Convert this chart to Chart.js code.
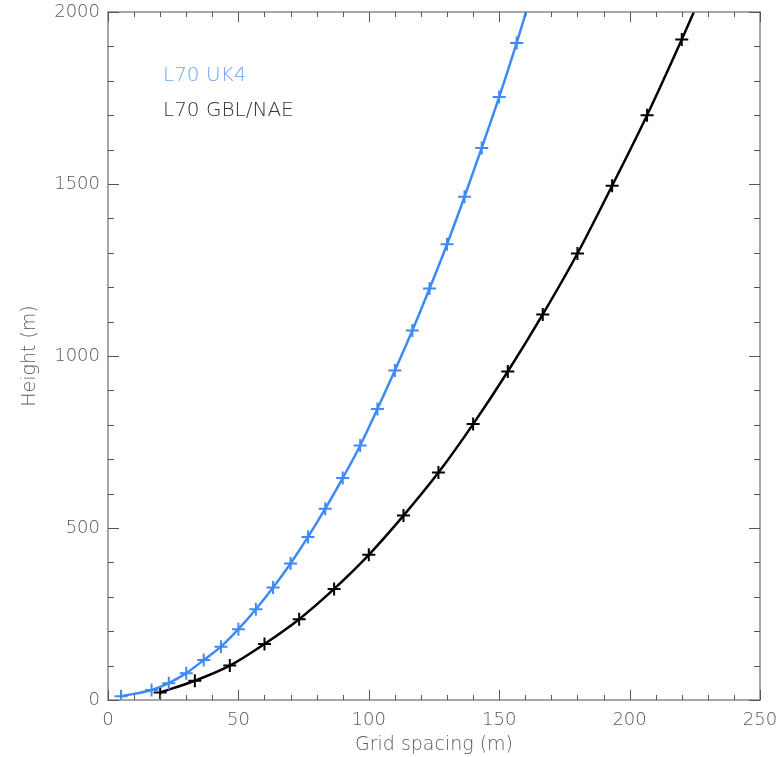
<!DOCTYPE html>
<html>
<head>
<meta charset="utf-8">
<script src="https://cdn.jsdelivr.net/npm/chart.js@4/dist/chart.umd.min.js"></script>
<style>
html, body { margin: 0; padding: 0; background: #fff; }
#wrap { width: 782px; height: 757px; }
</style>
</head>
<body>
<div id="wrap"><canvas id="height_chart"></canvas></div>
<script>
// grid spacing (m) and height (m)
var uk4_spacing = [5, 16.7, 23.3, 30, 36.7, 43.3, 50, 56.7, 63.3, 70, 76.7, 83.3, 90, 96.7, 103.3, 110, 116.7, 123.3, 130, 136.7, 143.3, 150, 156.7, 163.3];
var uk4_height  = [11, 29, 49, 78, 116, 155, 206, 264, 327, 397, 474, 556, 645, 740, 846, 958, 1074, 1196, 1325, 1463, 1605, 1753, 1910, 2075];
var gbl_spacing = [20, 33.3, 46.7, 60, 73.3, 86.7, 100, 113.3, 126.7, 140, 153.3, 166.7, 180, 193.3, 206.7, 220, 233.3];
var gbl_height  = [22, 56, 100, 163, 235, 323, 422, 536, 661, 802, 955, 1121, 1298, 1495, 1700, 1920, 2150];
var series_names = ['L70 UK4', 'L70 GBL/NAE'];
var x_ticks = [0, 50, 100, 150, 200, 250];
var y_ticks = [0, 500, 1000, 1500, 2000];

var FONT = 'DejaVu Sans';
var WEIGHT = '200';
var TEXT = '#5a5a5a';

function to_points(xs, ys){
	var pts = [];
	for(var i=0; i<xs.length; i++){
		pts.push({x: xs[i], y: ys[i]});
	}
	return pts;
}

// frame with inward ticks on all four sides
var frame_ticks = {
	id: 'frame_ticks',
	afterDraw: function(chart){
		var ctx = chart.ctx, a = chart.chartArea;
		var xs = chart.scales.x, ys = chart.scales.y;
		ctx.save();
		ctx.strokeStyle = '#8a8a8a';
		ctx.lineWidth = 1.5;
		ctx.strokeRect(a.left, a.top, a.right - a.left, a.bottom - a.top);
		ctx.strokeStyle = '#555';
		ctx.lineWidth = 1;
		ctx.beginPath();
		for(var v = 0; v <= 250; v += 10){
			var px = Math.round(xs.getPixelForValue(v)) + 0.5;
			var len = (v % 50 === 0) ? 10 : 5;
			ctx.moveTo(px, a.bottom); ctx.lineTo(px, a.bottom - len);
			ctx.moveTo(px, a.top); ctx.lineTo(px, a.top + len);
		}
		for(var h = 0; h <= 2000; h += 100){
			var py = Math.round(ys.getPixelForValue(h)) + 0.5;
			var hl = (h % 500 === 0) ? 11 : 6;
			ctx.moveTo(a.left, py); ctx.lineTo(a.left + hl, py);
			ctx.moveTo(a.right, py); ctx.lineTo(a.right - hl, py);
		}
		ctx.stroke();

		// text legend
		ctx.font = WEIGHT + ' 20px "' + FONT + '"';
		ctx.textAlign = 'left';
		ctx.textBaseline = 'alphabetic';
		ctx.fillStyle = '#6ea6f2';
		ctx.fillText(series_names[0], a.left + 55, a.top + 69);
		ctx.fillStyle = '#333';
		ctx.fillText(series_names[1], a.left + 55, a.top + 104);
		ctx.restore();
	}
};

function plain(v){ return String(v); }

function draw_figure(){
	var ctx = document.getElementById('height_chart').getContext('2d');

	var uk4 = {};
	uk4.label = series_names[0];
	uk4.data = to_points(uk4_spacing, uk4_height);
	uk4.borderColor = '#3d8af7';
	uk4.pointBorderColor = '#3d8af7';

	var gbl = {};
	gbl.label = series_names[1];
	gbl.data = to_points(gbl_spacing, gbl_height);
	gbl.borderColor = '#000';
	gbl.pointBorderColor = '#000';

	var sets = [uk4, gbl];
	for(var i=0; i<sets.length; i++){
		sets[i].borderWidth = 2.5;
		sets[i].pointStyle = 'cross';
		sets[i].pointRadius = 6.5;
		sets[i].pointBorderWidth = 2;
		sets[i].cubicInterpolationMode = 'monotone';
		sets[i].fill = false;
	}

	var tick_font = {family: FONT, size: 18, weight: WEIGHT};
	var title_font = {family: FONT, size: 19, weight: WEIGHT};

	var opts = {
		responsive: true,
		maintainAspectRatio: false,
		animation: false,
		layout: {padding: {top: 12, right: 22, left: 0, bottom: 0}},
		plugins: {legend: {display: false}, tooltip: {enabled: false}},
		scales: {
			x: {
				type: 'linear', min: 0, max: 250,
				grid: {display: false, drawTicks: false},
				border: {display: false},
				afterBuildTicks: function(s){ s.ticks = x_ticks.map(function(v){ return {value: v}; }); },
				afterFit: function(s){ s.height = 57; s.paddingLeft = 0; s.paddingRight = 0; },
				ticks: {color: TEXT, font: tick_font, padding: 10, maxRotation: 0, callback: plain},
				title: {display: true, text: 'Grid spacing (m)', color: TEXT, font: title_font, padding: {top: 0, bottom: 1}}
			},
			y: {
				type: 'linear', min: 0, max: 2000,
				grid: {display: false, drawTicks: false},
				border: {display: false},
				afterBuildTicks: function(s){ s.ticks = y_ticks.map(function(v){ return {value: v}; }); },
				afterFit: function(s){ s.width = 108; s.paddingTop = 0; s.paddingBottom = 0; },
				ticks: {color: TEXT, font: tick_font, padding: 8, callback: plain},
				title: {display: true, text: 'Height (m)', color: TEXT, font: title_font, padding: {top: 19, bottom: 0}}
			}
		}
	};

	var params = {};
	params.type = 'line';
	params.data = {datasets: sets};
	params.options = opts;
	params.plugins = [frame_ticks];
	return new Chart(ctx, params);
}

draw_figure();
</script>
</body>
</html>
